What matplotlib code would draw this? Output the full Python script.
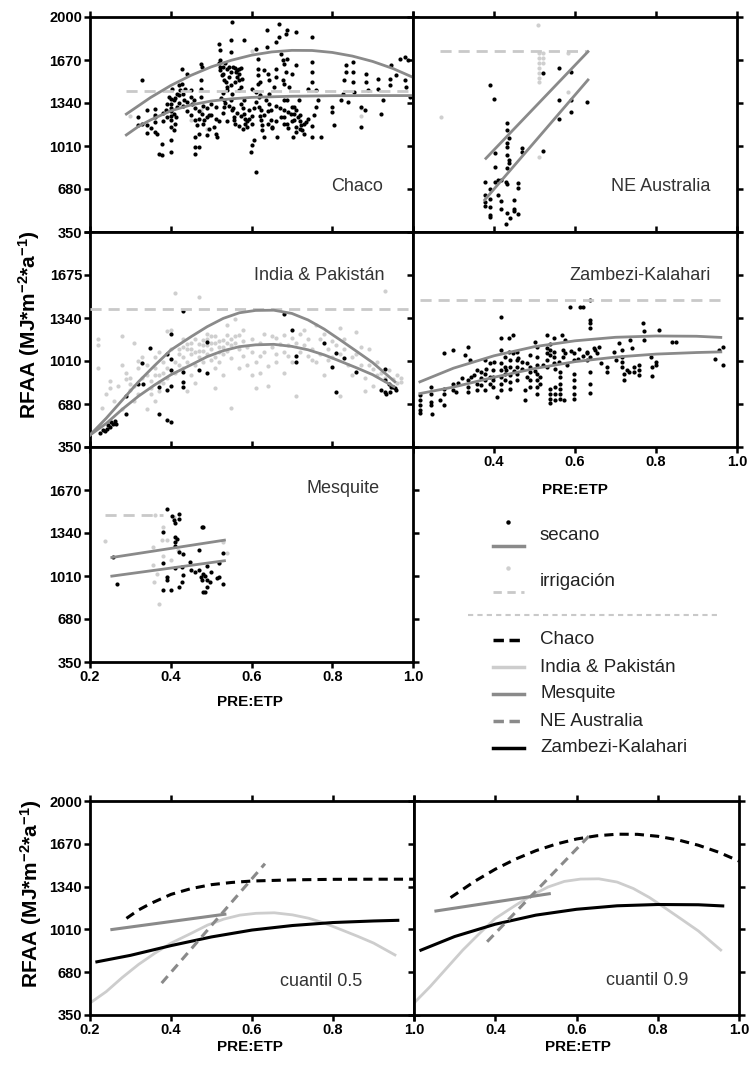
import numpy as np
import matplotlib
matplotlib.use("Agg")
import matplotlib.pyplot as plt
from matplotlib.lines import Line2D

plt.rcParams['font.family'] = ['Liberation Sans', 'DejaVu Sans']
plt.rcParams['mathtext.fontset'] = 'custom'
plt.rcParams['mathtext.rm'] = 'Liberation Sans'
plt.rcParams['mathtext.bf'] = 'Liberation Sans:bold'
plt.rcParams['mathtext.default'] = 'bf'

# ---------------- datos ----------------
# Chaco, secano
chaco_pts = [
    (0.32, 1233), (0.32, 1169), (0.329, 1519), (0.341, 1284), (0.341, 1169), (0.341, 1110),
    (0.362, 1297), (0.362, 1245), (0.362, 1194), (0.362, 1117), (0.366, 1105), (0.37, 951),
    (0.378, 938), (0.378, 1028), (0.387, 1284), (0.391, 1335), (0.395, 1386), (0.40, 1207),
    (0.40, 1156), (0.40, 1054), (0.40, 964), (0.404, 1450), (0.408, 1360), (0.408, 1258),
    (0.408, 1130), (0.412, 1233), (0.416, 1309), (0.416, 1412), (0.42, 1476), (0.424, 1437),
    (0.428, 1488), (0.428, 1604), (0.432, 1360), (0.436, 1450), (0.44, 1565), (0.449, 1386),
    (0.453, 1335), (0.457, 1360), (0.461, 951), (0.461, 1002), (0.461, 1079), (0.465, 1169),
    (0.469, 1105), (0.469, 1002), (0.474, 1450), (0.474, 1514), (0.474, 1386), (0.474, 1642),
    (0.478, 1616), (0.478, 1258), (0.482, 1207), (0.49, 1092), (0.49, 1233), (0.494, 1245),
    (0.494, 1143), (0.507, 1156), (0.511, 1220), (0.511, 1309), (0.511, 1105), (0.515, 1079),
    (0.519, 1795), (0.523, 1744), (0.523, 1667), (0.523, 1616), (0.523, 1591), (0.527, 1552),
    (0.532, 1514), (0.532, 1360), (0.532, 1309), (0.536, 1501), (0.54, 1463), (0.544, 1616),
    (0.548, 1821), (0.548, 1731), (0.552, 1962), (0.552, 1412), (0.552, 1284), (0.556, 1233),
    (0.556, 1207), (0.561, 1578), (0.565, 1540), (0.569, 1604), (0.569, 1437), (0.573, 1463),
    (0.573, 1335), (0.577, 1527), (0.581, 1821), (0.581, 1360), (0.581, 1258), (0.585, 1181),
    (0.59, 1156), (0.594, 1220), (0.594, 1284), (0.598, 964), (0.602, 1015), (0.606, 1054),
    (0.61, 811), (0.61, 1757), (0.61, 1424), (0.615, 1488), (0.615, 1552), (0.615, 1604),
    (0.615, 1680), (0.619, 1386), (0.619, 1309), (0.623, 1284), (0.623, 1207), (0.627, 1169),
    (0.627, 1130), (0.631, 1591), (0.631, 1079), (0.635, 1360), (0.639, 1898), (0.639, 1770),
    (0.644, 1514), (0.644, 1412), (0.644, 1335), (0.648, 1284), (0.648, 1207), (0.652, 1156),
    (0.656, 1463), (0.66, 1540), (0.66, 1808), (0.664, 1079), (0.668, 1949), (0.668, 1847),
    (0.673, 1233), (0.673, 1719), (0.677, 1667), (0.677, 1514), (0.681, 1488), (0.681, 1360),
    (0.681, 1284), (0.685, 1872), (0.685, 1578), (0.689, 1680), (0.689, 1898), (0.689, 1360),
    (0.689, 1181), (0.693, 1463), (0.697, 1258), (0.702, 1079), (0.706, 1309), (0.706, 1258),
    (0.706, 1207), (0.71, 1885), (0.71, 1629), (0.71, 1156), (0.714, 1233), (0.718, 1360),
    (0.722, 1169), (0.726, 1130), (0.731, 1105), (0.735, 1194), (0.739, 1450), (0.751, 1847),
    (0.751, 1655), (0.751, 1578), (0.751, 1501), (0.755, 1245), (0.751, 1079), (0.76, 1437),
    (0.764, 1360), (0.772, 1079), (0.76, 1309), (0.80, 1309), (0.80, 1271), (0.805, 1169),
    (0.822, 1360), (0.826, 1412), (0.83, 1514), (0.834, 1629), (0.834, 1578), (0.838, 1348),
    (0.851, 1655), (0.851, 1578), (0.851, 1501), (0.855, 1424), (0.872, 1309), (0.872, 1156),
    (0.88, 1284), (0.884, 1565), (0.884, 1501), (0.888, 1437), (0.913, 1527), (0.913, 1450),
    (0.921, 1258), (0.925, 1360), (0.942, 1527), (0.942, 1476), (0.946, 1629), (0.959, 1552),
    (0.967, 1680), (0.979, 1693), (0.979, 1514), (0.983, 1463), (0.992, 1386), (0.988, 1667),
    (0.53, 1620), (0.54, 1600), (0.55, 1580), (0.56, 1610), (0.57, 1560), (0.53, 1560),
    (0.545, 1540), (0.555, 1620), (0.565, 1590), (0.575, 1610), (0.535, 1650), (0.52, 1650),
    (0.57, 1520), (0.56, 1500), (0.55, 1480), (0.54, 1440), (0.53, 1420), (0.525, 1380),
    (0.535, 1340), (0.545, 1320), (0.555, 1300), (0.565, 1260), (0.575, 1240), (0.585, 1220),
    (0.56, 1180), (0.57, 1160), (0.58, 1140), (0.59, 1200), (0.60, 1240), (0.605, 1300),
    (0.61, 1350), (0.62, 1400), (0.63, 1250), (0.64, 1180), (0.65, 1150), (0.66, 1200),
    (0.67, 1300), (0.68, 1230), (0.69, 1270), (0.70, 1200), (0.71, 1290), (0.72, 1250),
    (0.73, 1180), (0.74, 1220), (0.75, 1160), (0.69, 1150), (0.71, 1120), (0.72, 1140),
    (0.38, 1260), (0.38, 1200), (0.39, 1230), (0.40, 1300), (0.40, 1330), (0.41, 1380),
    (0.42, 1400), (0.43, 1320), (0.44, 1280), (0.45, 1250), (0.46, 1300), (0.47, 1220),
    (0.48, 1180), (0.49, 1300), (0.50, 1330), (0.36, 1230), (0.33, 1180), (0.35, 1150),
    (0.60, 1450), (0.62, 1500), (0.64, 1560), (0.66, 1600), (0.68, 1640), (0.70, 1560),
    (0.40, 1370), (0.40, 1280), (0.40, 1240), (0.41, 1180), (0.42, 1340), (0.43, 1410),
    (0.44, 1350), (0.45, 1440), (0.46, 1210), (0.47, 1280), (0.48, 1320), (0.50, 1250),
    (0.52, 1200), (0.53, 1260), (0.54, 1200), (0.55, 1360), (0.58, 1300), (0.60, 1180),
    (0.62, 1240), (0.64, 1280), (0.66, 1320), (0.68, 1180), (0.70, 1310), (0.72, 1200),
]
# Chaco, irrigación
chaco_irr = [(0.475, 1290), (0.45, 1210), (0.49, 1140), (0.87, 1240), (0.87, 1300),
             (0.60, 1740), (0.39, 1280), (0.30, 1240)]

# NE Australia
neaus_pts = [
    (0.39, 1478), (0.40, 1371), (0.521, 1568), (0.56, 1606), (0.591, 1575), (0.56, 1360),
    (0.591, 1365), (0.63, 1347), (0.591, 1273), (0.56, 1215), (0.431, 1190), (0.431, 1133),
    (0.437, 1069), (0.431, 1031), (0.431, 1005), (0.47, 992), (0.47, 966), (0.402, 954),
    (0.431, 941), (0.521, 972), (0.437, 903), (0.437, 877), (0.402, 851), (0.431, 839),
    (0.377, 730), (0.402, 737), (0.41, 749), (0.418, 749), (0.43, 737), (0.431, 716),
    (0.459, 724), (0.459, 685), (0.39, 677), (0.377, 634), (0.41, 634), (0.39, 601),
    (0.418, 588), (0.377, 583), (0.377, 549), (0.39, 544), (0.418, 524), (0.45, 596),
    (0.45, 524), (0.431, 493), (0.44, 455), (0.459, 488), (0.39, 480), (0.39, 462),
    (0.43, 409), (0.45, 514),
]
neaus_irr = [
    (0.508, 1939), (0.511, 1721), (0.511, 1683), (0.511, 1644), (0.511, 1606), (0.511, 1568),
    (0.511, 1529), (0.511, 1503), (0.521, 1721), (0.521, 1683), (0.521, 1644), (0.582, 1721),
    (0.582, 1427), (0.27, 1235), (0.511, 926),
]

# India & Pakistán
india_pts = [
    (0.225, 460), (0.233, 480), (0.241, 490), (0.249, 500), (0.257, 525), (0.265, 530),
    (0.245, 520), (0.253, 540), (0.261, 550), (0.237, 470), (0.29, 740), (0.29, 606),
    (0.329, 991), (0.32, 837), (0.332, 837), (0.349, 1106), (0.37, 811), (0.37, 606),
    (0.39, 1060), (0.39, 786), (0.39, 555), (0.40, 542), (0.40, 1029), (0.40, 940),
    (0.40, 816), (0.40, 1221), (0.43, 1396), (0.43, 927), (0.43, 850), (0.43, 811),
    (0.47, 940), (0.49, 919), (0.49, 1157), (0.68, 1367), (0.70, 1247), (0.71, 1047),
    (0.71, 999), (0.78, 1145), (0.80, 965), (0.81, 773), (0.81, 1068), (0.83, 1034),
    (0.86, 927), (0.93, 952), (0.93, 863), (0.94, 837), (0.946, 811), (0.955, 799),
    (0.942, 773), (0.93, 773), (0.92, 786), (0.95, 810), (0.959, 786), (0.934, 760),
]
india_irr = [
    (0.22, 1180), (0.22, 1130), (0.22, 960), (0.25, 860), (0.25, 800), (0.24, 760), (0.26, 700),
    (0.23, 650), (0.28, 1200), (0.28, 980), (0.29, 920), (0.29, 870), (0.30, 830), (0.30, 790),
    (0.31, 1150), (0.31, 700), (0.32, 1010), (0.32, 960), (0.32, 760), (0.27, 820), (0.28, 640),
    (0.33, 1040), (0.34, 980), (0.34, 900), (0.35, 860), (0.35, 800), (0.35, 760), (0.36, 1040),
    (0.36, 960), (0.37, 1080), (0.37, 900), (0.37, 780), (0.38, 1000), (0.38, 840), (0.39, 1240),
    (0.39, 960), (0.39, 880), (0.36, 700), (0.34, 640), (0.40, 1250), (0.40, 1100), (0.41, 1000),
    (0.41, 920), (0.42, 1060), (0.42, 980), (0.43, 1120), (0.43, 1040), (0.43, 960), (0.44, 1100),
    (0.44, 1000), (0.45, 1150), (0.45, 1060), (0.45, 900), (0.46, 1080), (0.46, 980), (0.47, 1140),
    (0.47, 1040), (0.47, 1500), (0.41, 1530), (0.44, 780), (0.46, 840), (0.48, 1170), (0.48, 1090),
    (0.48, 1000), (0.49, 1180), (0.49, 1130), (0.49, 1060), (0.50, 1200), (0.50, 1100),
    (0.50, 1020), (0.51, 1150), (0.51, 1040), (0.51, 960), (0.52, 1120), (0.52, 1080),
    (0.52, 1000), (0.53, 1170), (0.53, 1060), (0.54, 1290), (0.54, 1210), (0.54, 1090),
    (0.55, 1130), (0.55, 1030), (0.53, 900), (0.55, 650), (0.51, 800), (0.56, 1330), (0.56, 1200),
    (0.57, 1100), (0.57, 960), (0.58, 1250), (0.58, 1050), (0.59, 980), (0.60, 1180), (0.60, 1080),
    (0.60, 900), (0.61, 1000), (0.62, 1150), (0.62, 920), (0.63, 1220), (0.63, 1080), (0.64, 970),
    (0.65, 1200), (0.65, 1120), (0.61, 800), (0.64, 820), (0.66, 1190), (0.66, 1060), (0.67, 1140),
    (0.68, 1210), (0.68, 1080), (0.69, 1130), (0.70, 1190), (0.70, 1000), (0.71, 1150),
    (0.72, 1220), (0.72, 1080), (0.73, 1130), (0.73, 1250), (0.74, 1180), (0.75, 1100),
    (0.75, 1020), (0.71, 740), (0.68, 920), (0.76, 1290), (0.77, 1180), (0.77, 1060), (0.78, 1220),
    (0.79, 1100), (0.80, 1160), (0.80, 1040), (0.81, 1130), (0.82, 1060), (0.82, 1260),
    (0.83, 1100), (0.84, 980), (0.85, 1040), (0.85, 900), (0.82, 740), (0.78, 900), (0.86, 1230),
    (0.87, 1120), (0.87, 980), (0.88, 880), (0.89, 1100), (0.90, 950), (0.90, 820), (0.91, 1000),
    (0.92, 920), (0.93, 880), (0.94, 830), (0.95, 870), (0.96, 900), (0.97, 850), (0.93, 1550),
    (0.88, 780), (0.96, 840),
    (0.42, 1100), (0.43, 1180), (0.44, 1140), (0.45, 1100), (0.46, 1180), (0.47, 1090),
    (0.48, 1130), (0.49, 1220), (0.50, 1150), (0.51, 1200), (0.52, 1160), (0.53, 1120),
    (0.54, 1150), (0.55, 1180), (0.56, 1150), (0.57, 1210), (0.58, 1160), (0.59, 1120),
    (0.36, 900), (0.37, 850), (0.38, 920), (0.33, 880), (0.31, 820), (0.30, 880),
    (0.62, 1050), (0.66, 1000), (0.69, 1050), (0.74, 1050), (0.76, 1000), (0.79, 1020),
    (0.83, 1180), (0.86, 1060), (0.89, 980), (0.91, 900), (0.94, 940), (0.97, 880),
]

# Zambezi-Kalahari
zamb_pts = [
    (0.217, 747), (0.217, 709), (0.217, 670), (0.217, 632), (0.217, 611), (0.245, 811),
    (0.245, 760), (0.245, 696), (0.245, 670), (0.248, 606), (0.266, 709), (0.277, 1073),
    (0.277, 798), (0.277, 760), (0.277, 670), (0.298, 1093), (0.298, 837), (0.298, 786),
    (0.307, 773), (0.328, 1055), (0.336, 1119), (0.34, 1016), (0.336, 863), (0.336, 811),
    (0.336, 773), (0.344, 888), (0.357, 940), (0.357, 837), (0.357, 786), (0.369, 927),
    (0.369, 876), (0.369, 824), (0.378, 1016), (0.378, 914), (0.378, 863), (0.378, 786),
    (0.39, 991), (0.39, 888), (0.39, 837), (0.398, 940), (0.398, 888), (0.398, 863),
    (0.398, 811), (0.408, 734), (0.417, 1344), (0.417, 1183), (0.417, 1093), (0.417, 991),
    (0.417, 940), (0.417, 888), (0.417, 837), (0.417, 786), (0.427, 1042), (0.427, 965),
    (0.427, 914), (0.427, 863), (0.436, 1080), (0.438, 1183), (0.44, 1016), (0.44, 965),
    (0.44, 901), (0.44, 850), (0.44, 798), (0.448, 1209), (0.448, 1068), (0.456, 1080),
    (0.456, 1016), (0.456, 965), (0.456, 914), (0.456, 863), (0.477, 709), (0.477, 786),
    (0.481, 991), (0.481, 888), (0.489, 1055), (0.489, 965), (0.489, 927), (0.489, 863),
    (0.489, 811), (0.502, 1157), (0.506, 1042), (0.506, 1119), (0.506, 978), (0.506, 914),
    (0.506, 863), (0.506, 811), (0.506, 760), (0.514, 888), (0.514, 837), (0.53, 1209),
    (0.53, 1106), (0.53, 1068), (0.53, 1016), (0.53, 965), (0.538, 1144), (0.538, 1093),
    (0.538, 1055), (0.538, 798), (0.538, 760), (0.538, 722), (0.538, 688), (0.547, 1183),
    (0.547, 1080), (0.547, 1042), (0.547, 991), (0.551, 811), (0.551, 760), (0.551, 709),
    (0.562, 927), (0.562, 888), (0.562, 837), (0.562, 798), (0.562, 760), (0.562, 722),
    (0.568, 1209), (0.57, 1093), (0.57, 1042), (0.576, 1170), (0.576, 1068), (0.572, 709),
    (0.587, 1426), (0.597, 1068), (0.597, 1016), (0.598, 914), (0.598, 863), (0.598, 811),
    (0.598, 760), (0.598, 722), (0.608, 1029), (0.613, 1421), (0.62, 1426), (0.63, 1068),
    (0.63, 1016), (0.63, 1080), (0.638, 1478), (0.638, 1324), (0.638, 1298), (0.638, 1260),
    (0.638, 1042), (0.638, 927), (0.638, 837), (0.638, 765), (0.646, 1106), (0.65, 1093),
    (0.655, 1068), (0.659, 1119), (0.663, 991), (0.68, 965), (0.68, 927), (0.696, 1080),
    (0.70, 1016), (0.708, 1145), (0.717, 1093), (0.717, 1042), (0.717, 1004), (0.717, 965),
    (0.72, 914), (0.72, 868), (0.729, 940), (0.733, 927), (0.737, 1170), (0.741, 1106),
    (0.745, 965), (0.745, 927), (0.758, 978), (0.758, 940), (0.758, 901), (0.769, 1298),
    (0.77, 1239), (0.77, 1170), (0.787, 1042), (0.791, 965), (0.791, 893), (0.80, 1004),
    (0.80, 978), (0.807, 1247), (0.84, 1157), (0.849, 1157), (0.946, 1029), (0.955, 1098),
    (0.965, 1119), (0.965, 978),
    (0.47, 1000), (0.47, 950), (0.46, 1030), (0.50, 930), (0.52, 980), (0.55, 950),
    (0.56, 1000), (0.58, 980), (0.59, 1090), (0.61, 1100), (0.62, 1050), (0.43, 940),
    (0.45, 930), (0.35, 900), (0.38, 950), (0.40, 1000), (0.31, 840), (0.32, 880),
]

# Mesquite
mesq_pts = [
    (0.258, 1157), (0.268, 952), (0.39, 1521), (0.38, 1344), (0.38, 1106), (0.39, 1004),
    (0.39, 983), (0.38, 901), (0.40, 901), (0.402, 1470), (0.408, 1439), (0.41, 1414),
    (0.42, 1485), (0.42, 1444), (0.41, 1306), (0.416, 1293), (0.41, 1273), (0.41, 1239),
    (0.42, 1191), (0.43, 1178), (0.41, 1068), (0.428, 1080), (0.43, 1016), (0.428, 965),
    (0.42, 927), (0.448, 1119), (0.45, 1055), (0.46, 1042), (0.469, 1209), (0.471, 1055),
    (0.478, 1388), (0.48, 1383), (0.478, 978), (0.48, 888), (0.485, 888), (0.49, 927),
    (0.481, 1029), (0.49, 1085), (0.49, 978), (0.497, 965), (0.50, 1042), (0.514, 996),
    (0.52, 1106), (0.53, 1183), (0.53, 947), (0.52, 1004), (0.475, 1000), (0.485, 1010),
]
mesq_irr = [
    (0.237, 1278), (0.357, 1229), (0.378, 1285), (0.39, 1285), (0.38, 1162), (0.357, 1093),
    (0.367, 1029), (0.359, 965), (0.37, 798), (0.38, 1388), (0.40, 1132), (0.39, 1004),
    (0.36, 1478), (0.408, 1465), (0.417, 1209), (0.529, 1273), (0.54, 1183), (0.52, 1106),
]

# curvas de cuantiles (0.5 y 0.9) por región
chaco_q50_x = [0.29, 0.32, 0.35, 0.40, 0.45, 0.50, 0.55, 0.60, 0.70, 0.80, 0.90, 1.00]
chaco_q50_y = [1095, 1160, 1210, 1280, 1325, 1355, 1372, 1383, 1392, 1396, 1397, 1397]
chaco_q90_x = [0.29, 0.35, 0.40, 0.45, 0.50, 0.55, 0.60, 0.65, 0.70, 0.75, 0.80, 0.85, 0.90, 0.95, 1.00]
chaco_q90_y = [1255, 1382, 1474, 1552, 1617, 1668, 1707, 1732, 1744, 1743, 1728, 1700, 1659, 1605, 1537]

neaus_q50_x = [0.377, 0.632]
neaus_q50_y = [596, 1517]
neaus_q90_x = [0.38, 0.632]
neaus_q90_y = [915, 1734]

india_q50_x = [0.20, 0.24, 0.28, 0.32, 0.36, 0.40, 0.45, 0.49, 0.53, 0.57, 0.61, 0.655,
               0.70, 0.74, 0.78, 0.82, 0.86, 0.90, 0.953]
india_q50_y = [442, 530, 640, 740, 826, 904, 980, 1043, 1089, 1120, 1134, 1138,
               1122, 1096, 1057, 1008, 958, 905, 813]
india_q90_x = [0.20, 0.24, 0.28, 0.32, 0.36, 0.40, 0.45, 0.49, 0.53, 0.57, 0.61, 0.655,
               0.70, 0.74, 0.78, 0.82, 0.86, 0.90, 0.955]
india_q90_y = [442, 570, 710, 850, 975, 1094, 1196, 1273, 1337, 1380, 1398, 1400,
               1375, 1325, 1255, 1171, 1085, 998, 851]

zamb_q50_x = [0.217, 0.30, 0.40, 0.50, 0.60, 0.70, 0.80, 0.90, 0.96]
zamb_q50_y = [760, 810, 885, 952, 1005, 1040, 1063, 1075, 1080]
zamb_q90_x = [0.217, 0.30, 0.40, 0.50, 0.60, 0.70, 0.80, 0.90, 0.96]
zamb_q90_y = [850, 955, 1050, 1120, 1165, 1192, 1202, 1200, 1191]

mesq_q50_x = [0.254, 0.533]
mesq_q50_y = [1009, 1127]
mesq_q90_x = [0.254, 0.533]
mesq_q90_y = [1152, 1285]

# nivel del cuantil de irrigación: (x inicio, x fin, valor)
chaco_irr_line = (0.29, 1.0, 1434)
neaus_irr_line = (0.266, 0.632, 1739)
india_irr_line = (0.2, 1.0, 1408)
zamb_irr_line = (0.217, 0.96, 1478)
mesq_irr_line = (0.237, 0.38, 1478)

yticks_top = [350, 680, 1010, 1340, 1670, 2000]
yticks_low = [350, 680, 1010, 1340, 1670]
xticks = [0.2, 0.4, 0.6, 0.8, 1.0]

# ---------------- estilos ----------------
W, H = 751, 1067
BLACK = 'black'
DOT_LIGHT = '#cfcfcf'
FIT = '#8a8a8a'
IRR = '#c9c9c9'
LIGHT = '#cdcdcd'

fig = plt.figure(figsize=(W / 100, H / 100), dpi=100)


def box(x0, y0, x1, y1):
    return [x0 / W, 1 - y1 / H, (x1 - x0) / W, (y1 - y0) / H]


def style(ax, ylabels=None, xlabels=None):
    ax.set_xlim(0.2, 1.0)
    ax.set_ylim(350, 2000)
    ax.set_xticks(xticks)
    ax.set_yticks(yticks_top)
    for s in ax.spines.values():
        s.set_linewidth(2.0)
    ax.tick_params(direction='out', length=4.5, width=1.8, top=True, right=True,
                   labelsize=10.5, pad=1.2)
    if ylabels is None:
        ax.set_yticklabels([])
    else:
        ax.set_yticklabels(ylabels + [''] * (len(yticks_top) - len(ylabels)),
                           fontweight='bold')
    if xlabels is None:
        ax.set_xticklabels([])
    else:
        ax.set_xticklabels(xlabels, fontweight='bold')


def scatter(ax, pts, color, z=2):
    a = np.array(pts)
    ax.scatter(a[:, 0], a[:, 1], s=9, color=color, linewidths=0, zorder=z)


def irr_line(ax, spec):
    ax.plot([spec[0], spec[1]], [spec[2], spec[2]], color=IRR, lw=2, dashes=(4, 2.5), zorder=3)


def label(ax, txt, x, y):
    ax.text(x, y, txt, transform=ax.transAxes, ha='center', va='center',
            fontsize=13, color='#333333')


lab_top = ['350', '680', '1010', '1340', '1670', '2000']
lab_x = ['0.2', '0.4', '0.6', '0.8', '1.0']
lab_x_right = ['', '0.4', '0.6', '0.8', '1.0']

# Chaco
ax1 = fig.add_axes(box(90, 17, 413, 232))
style(ax1, ylabels=lab_top)
scatter(ax1, chaco_irr, DOT_LIGHT, 1)
scatter(ax1, chaco_pts, BLACK)
irr_line(ax1, chaco_irr_line)
ax1.plot(chaco_q50_x, chaco_q50_y, color=FIT, lw=2, zorder=4)
ax1.plot(chaco_q90_x, chaco_q90_y, color=FIT, lw=2, zorder=4)
label(ax1, 'Chaco', 0.827, 0.21)

# NE Australia
ax2 = fig.add_axes(box(413, 17, 737, 232))
style(ax2)
scatter(ax2, neaus_irr, DOT_LIGHT, 1)
scatter(ax2, neaus_pts, BLACK)
irr_line(ax2, neaus_irr_line)
ax2.plot(neaus_q50_x, neaus_q50_y, color=FIT, lw=2, zorder=4)
ax2.plot(neaus_q90_x, neaus_q90_y, color=FIT, lw=2, zorder=4)
label(ax2, 'NE Australia', 0.763, 0.21)

# India & Pakistán
ax3 = fig.add_axes(box(90, 232, 413, 447))
style(ax3, ylabels=['350', '680', '1010', '1340', '1675'])
scatter(ax3, india_irr, DOT_LIGHT, 1)
scatter(ax3, india_pts, BLACK)
irr_line(ax3, india_irr_line)
ax3.plot(india_q50_x, india_q50_y, color=FIT, lw=2, zorder=4)
ax3.plot(india_q90_x, india_q90_y, color=FIT, lw=2, zorder=4)
label(ax3, 'India & Pakistán', 0.709, 0.80)

# Zambezi-Kalahari
ax4 = fig.add_axes(box(413, 232, 737, 447))
style(ax4, xlabels=lab_x_right)
scatter(ax4, zamb_pts, BLACK)
irr_line(ax4, zamb_irr_line)
ax4.plot(zamb_q50_x, zamb_q50_y, color=FIT, lw=2, zorder=4)
ax4.plot(zamb_q90_x, zamb_q90_y, color=FIT, lw=2, zorder=4)
label(ax4, 'Zambezi-Kalahari', 0.70, 0.80)

# Mesquite
ax5 = fig.add_axes(box(90, 447, 413, 662))
style(ax5, ylabels=['350', '680', '1010', '1340', '1670'], xlabels=lab_x)
scatter(ax5, mesq_irr, DOT_LIGHT, 1)
scatter(ax5, mesq_pts, BLACK)
irr_line(ax5, mesq_irr_line)
ax5.plot(mesq_q50_x, mesq_q50_y, color=FIT, lw=2, zorder=4)
ax5.plot(mesq_q90_x, mesq_q90_y, color=FIT, lw=2, zorder=4)
label(ax5, 'Mesquite', 0.783, 0.805)

# cuantiles comparados entre regiones
curves = {
    'q50': dict(chaco=(chaco_q50_x, chaco_q50_y), india=(india_q50_x, india_q50_y),
                mesq=(mesq_q50_x, mesq_q50_y), neaus=(neaus_q50_x, neaus_q50_y),
                zamb=(zamb_q50_x, zamb_q50_y)),
    'q90': dict(chaco=(chaco_q90_x, chaco_q90_y), india=(india_q90_x, india_q90_y),
                mesq=(mesq_q90_x, mesq_q90_y), neaus=(neaus_q90_x, neaus_q90_y),
                zamb=(zamb_q90_x, zamb_q90_y)),
}


def compare(ax, q):
    c = curves[q]
    ax.plot(*c['india'], color=LIGHT, lw=2, zorder=2)
    ax.plot(*c['zamb'], color=BLACK, lw=2.2, zorder=3)
    ax.plot(*c['mesq'], color=FIT, lw=2.2, zorder=3)
    ax.plot(*c['neaus'], color=FIT, lw=2.2, dashes=(3, 2), zorder=3)
    ax.plot(*c['chaco'], color=BLACK, lw=2.2, dashes=(3, 2), zorder=4)


ax6 = fig.add_axes(box(90, 801, 414, 1015))
style(ax6, ylabels=lab_top, xlabels=lab_x)
compare(ax6, 'q50')
label(ax6, 'cuantil 0.5', 0.713, 0.156)

ax7 = fig.add_axes(box(414, 801, 739, 1015))
style(ax7, xlabels=lab_x_right)
compare(ax7, 'q90')
label(ax7, 'cuantil 0.9', 0.717, 0.16)

# títulos de ejes
ylab = r'RFAA (MJ*m$^{-2}$*a$^{-1}$)'
fig.text(29 / W, 1 - 325 / H, ylab, rotation=90, ha='center', va='center',
         fontsize=15, fontweight='bold')
fig.text(31 / W, 1 - 894 / H, ylab, rotation=90, ha='center', va='center',
         fontsize=15, fontweight='bold')
for (px, py) in [(250, 702), (575, 490), (250, 1047), (578, 1047)]:
    fig.text(px / W, 1 - py / H, 'PRE:ETP', ha='center', va='center',
             fontsize=11, fontweight='bold')


# leyenda
def fline(x0, x1, y, **kw):
    fig.add_artist(Line2D([x0 / W, x1 / W], [1 - y / H, 1 - y / H],
                          transform=fig.transFigure, **kw))


def fdot(x, y, color):
    fig.add_artist(Line2D([x / W], [1 - y / H], marker='o', markersize=3.2, color=color,
                          markeredgewidth=0, transform=fig.transFigure))


def ftext(x, y, t):
    fig.text(x / W, 1 - y / H, t, ha='left', va='center', fontsize=13.5, color='#222222')


fdot(508, 522, BLACK)
fline(493, 524, 546, color=FIT, lw=2.5)
ftext(540, 535, 'secano')
fdot(508, 568, DOT_LIGHT)
fline(493, 524, 592, color=IRR, lw=2, dashes=(3, 2))
ftext(540, 582, 'irrigación')
fline(468, 717, 615, color=IRR, lw=1.5, dashes=(2.5, 2))

entries = [('Chaco', dict(color=BLACK, lw=2.5, dashes=(3, 1.6))),
           ('India & Pakistán', dict(color=LIGHT, lw=2.5)),
           ('Mesquite', dict(color=FIT, lw=2.5)),
           ('NE Australia', dict(color=FIT, lw=2.5, dashes=(3, 1.6))),
           ('Zambezi-Kalahari', dict(color=BLACK, lw=2.5))]
for i, (name, kw) in enumerate(entries):
    y = 640 + i * 27
    fline(493, 524, y, **kw)
    ftext(540, y, name)

fig.savefig('out.png', dpi=100)
